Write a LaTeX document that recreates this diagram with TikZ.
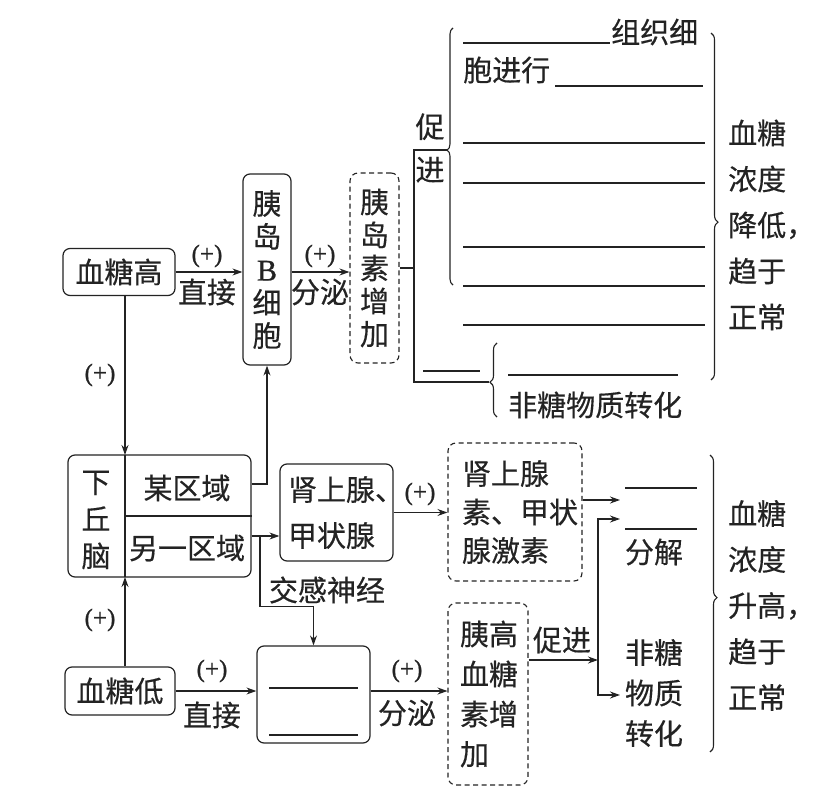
\documentclass[tikz,border=0pt]{standalone}
\usepackage{fontspec}
\newfontfamily\cjk[FakeBold=0.4]{Noto Sans CJK SC}
\newfontfamily\latin[FakeBold=0.8]{Liberation Serif}
\usepackage{tikz}
\usetikzlibrary{arrows.meta,calc,positioning,decorations.pathreplacing}
\definecolor{ink}{RGB}{35,35,35}
\def\BlankL{463}
\def\BlankR{705}
\tikzset{
  box/.style={
    draw=ink, line width=1.2pt, rounded corners=7pt,
    align=center, inner sep=0pt, text=ink,
    font=\cjk\fontsize{29}{33}\selectfont,
  },
  hormone/.style={
    draw=ink, line width=1.1pt, dash pattern=on 5pt off 3.5pt, rounded corners=8pt,
    align=center, inner sep=0pt, text=ink,
    font=\cjk\fontsize{29}{33}\selectfont,
  },
  txt/.style={inner sep=0pt, text=ink, align=center, font=\cjk\fontsize{29}{33}\selectfont},
  plus/.style={inner sep=0pt, text=ink, font=\latin\fontsize{25}{27}\selectfont},
  arr/.style={-{Stealth[length=10pt,width=7pt]}, line width=1.2pt, draw=ink},
  link/.style={line width=1.2pt, draw=ink},
  fillin/.style={line width=1.1pt, draw=ink},
  brc/.style 2 args={decorate, decoration={brace, amplitude=#1, aspect=#2}, line width=1.1pt, draw=ink},
}

\begin{document}
\begin{tikzpicture}[x=1pt,y=-1pt]
  \useasboundingbox (0,0) rectangle (832,802);

  % high blood sugar branch
  \node[box, minimum width=112, minimum height=47] (glhigh) at (119,272) {血糖高};
  \node[box, minimum width=48, minimum height=191] (bcell) at (267,269.5) {胰\\岛\\{\latin\fontsize{30}{33}\selectfont B}\\细\\胞};
  \node[hormone, minimum width=49, minimum height=190] (insulin) at (374.5,268) {胰\\岛\\素\\增\\加};
  \draw[arr] (glhigh.east) -- (glhigh.east -| bcell.west);
  \node[plus] (p1) at (207,256) {(+)};
  \node[txt] (w1) at (207,292) {直接};
  \draw[arr] (bcell.east |- glhigh.east) -- (insulin.west |- glhigh.east);
  \node[plus] (p2) at (320,256) {(+)};
  \node[txt] (w2) at (320,292) {分泌};

  \coordinate (tTop) at (414,150);
  \coordinate (tBot) at (414,382);
  \coordinate (b1tip) at (448,150);
  \coordinate (b2tip) at (489,382);
  \draw[link] (insulin.east) -- (insulin.east -| tTop);
  \draw[link] (b1tip) -- (tTop) -- (tBot) -- (b2tip);
  \node[txt, font=\cjk\fontsize{29}{43}\selectfont] (cujin1) at (430,148) {促\\进};
  \draw[brc={6pt}{0.525}] (453,285) -- (453,28);
  \draw[brc={7pt}{0.47}] (497,417) -- (497,343);
  \draw[brc={7pt}{0.545}] (711,33) -- (711,380);

  \draw[fillin] (\BlankL,43) -- (610,43);
  \node[txt, anchor=west] (w3) at (611,32) {组织细};
  \node[txt, anchor=west] (w4) at (\BlankL,70) {胞进行};
  \draw[fillin] (555,86) -- (703,86);
  \foreach \yy in {143,183,247,286,325}
    \draw[fillin] (\BlankL,\yy) -- (\BlankR,\yy);
  \draw[fillin] (423,371) -- (480,371);
  \draw[fillin] (508,375) -- (678,375);
  \node[txt, anchor=west] (w5) at (508,405) {非糖物质转化};
  \node[txt, anchor=west, align=left, font=\cjk\fontsize{29}{46}\selectfont] (fall) at (728,225) {血糖\\浓度\\降低，\\趋于\\正常};

  % hypothalamus
  \node[box, minimum width=183, minimum height=122] (hyp) at (159.5,516) {};
  \coordinate (dvtop) at (125,455);
  \coordinate (dvbot) at (125,577);
  \draw[link] (dvtop) -- (dvbot);
  \draw[link] ($(dvtop)!0.5!(dvbot)$) -- (hyp.east);
  \node[txt, font=\cjk\fontsize{29}{37}\selectfont] (hypname) at (96,520) {下\\丘\\脑};
  \node[txt] (zoneA) at (187,488) {某区域};
  \node[txt] (zoneB) at (187,548) {另一区域};
  \draw[arr] (glhigh.south -| dvtop) -- (dvtop);
  \node[plus] (p3) at (100,375) {(+)};
  \draw[arr] (hyp.east |- 0,484) -| (bcell.south);

  % low blood sugar branch
  \node[box, minimum width=110, minimum height=48] (glow) at (120,691) {血糖低};
  \draw[arr] (glow.north -| dvbot) -- (dvbot);
  \node[plus] (p4) at (100,620) {(+)};

  \node[box, minimum width=113, minimum height=97, align=left, text width=97,
        font=\cjk\fontsize{29}{46}\selectfont] (adr) at (336.5,512.5) {肾上腺、\\甲状腺};
  \coordinate (sym) at (260,536);
  \draw[arr] (hyp.east |- sym) -- (adr.west |- sym);
  \node[hormone, minimum width=134, minimum height=138, align=left, text width=106,
        font=\cjk\fontsize{29}{38.5}\selectfont] (adrh) at (515,512) {肾上腺\\素、甲状\\腺激素};
  \draw[arr] (adr.east) -- (adr.east -| adrh.west);
  \node[plus] (p5) at (420,494) {(+)};

  \node[box, minimum width=113, minimum height=97] (acell) at (313.5,694.5) {};
  \draw[fillin] (269,688) -- (358,688);
  \draw[fillin] (269,735) -- (358,735);
  \draw[arr] (sym) |- ($(acell.north)+(0,-39)$) -- (acell.north);
  \node[txt] (w6) at (327,590) {交感神经};
  \draw[arr] (glow.east) -- (glow.east -| acell.west);
  \node[plus] (p6) at (212,671) {(+)};
  \node[txt] (w7) at (212,715) {直接};

  \node[hormone, minimum width=80, minimum height=182, align=left, text width=56,
        font=\cjk\fontsize{29}{40}\selectfont] (glucagon) at (488,694) {胰高\\血糖\\素增\\加};
  \draw[arr] (acell.east |- glow.east) -- (glucagon.west |- glow.east);
  \node[plus] (p7) at (407,671) {(+)};
  \node[txt] (w8) at (407,713) {分泌};

  % effects of raising hormones
  \coordinate (upA) at (620,500);
  \coordinate (upB) at (620,519);
  \coordinate (upC) at (620,695);
  \coordinate (vmid) at (598,660);
  \draw[arr] (adrh.east |- upA) -- (upA);
  \draw[arr] (glucagon.east |- vmid) -- (vmid);
  \draw[arr] (vmid) |- (upB);
  \draw[arr] (vmid) |- (upC);
  \node[txt] (cujin2) at (562,640) {促进};
  \draw[fillin] (625,488) -- (697,488);
  \draw[fillin] (625,529) -- (697,529);
  \node[txt] (w9) at (654,552) {分解};
  \node[txt, font=\cjk\fontsize{29}{40.5}\selectfont] (w10) at (654,693) {非糖\\物质\\转化};
  \draw[brc={7pt}{0.48}] (710,455) -- (710,752);
  \node[txt, anchor=west, align=left, font=\cjk\fontsize{29}{46}\selectfont] (rise) at (728,605.5) {血糖\\浓度\\升高，\\趋于\\正常};
\end{tikzpicture}
\end{document}
